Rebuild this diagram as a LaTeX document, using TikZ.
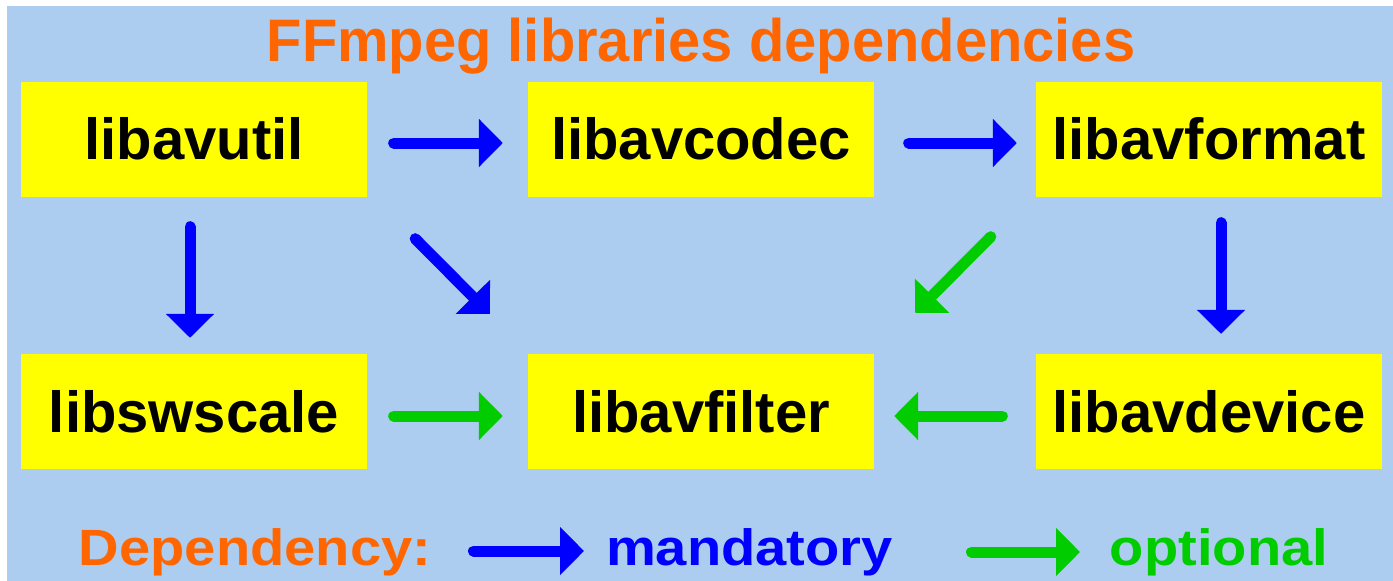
\documentclass[tikz,border=0pt]{standalone}
\usepackage{fontspec}
\setmainfont{Liberation Sans}
\newfontfamily\legfont{Liberation Sans}[FakeStretch=1.1]
\newfontfamily\titlefont{Liberation Sans}[FakeStretch=0.965]
\usetikzlibrary{arrows.meta,calc}
\definecolor{bgblue}{RGB}{172,205,239}
\definecolor{boxyellow}{RGB}{255,255,0}
\definecolor{tOrange}{RGB}{255,102,0}
\definecolor{mBlue}{RGB}{0,0,255}
\definecolor{oGreen}{RGB}{0,204,0}
\tikzset{
  libbox/.style={fill=boxyellow, minimum width=346pt, minimum height=115pt, inner sep=0pt,
    font=\fontsize{58}{60}\selectfont\bfseries, text=black},
  arrbase/.style={line width=11pt, line cap=round, -{Triangle[length=24pt,width=47pt]}},
  mand/.style={arrbase, draw=mBlue},
  opt/.style={arrbase, draw=oGreen},
  legtext/.style={anchor=base, inner sep=0pt, font=\legfont\fontsize{51}{53}\selectfont\bfseries}
}
\begin{document}
\begin{tikzpicture}[x=1pt,y=-1pt]
\useasboundingbox (0,0) rectangle (1393,581);
\fill[white] (0,0) rectangle (1393,581);
\fill[bgblue] (7,6) rectangle (1393,581);

\node[anchor=base, inner sep=0pt, text=tOrange, font=\titlefont\fontsize{60}{62}\selectfont\bfseries] (title) at (701,61) {FFmpeg libraries dependencies};

\node[libbox] (avutil)   at (194,139) {libavutil};
\node[libbox] (avcodec)  at (701,139) {libavcodec};
\node[libbox] (avformat) at (1209,139) {libavformat};
\node[libbox] (swscale)  at (194,411.5) {libswscale};
\node[libbox] (avfilter) at (701,411.5) {libavfilter};
\node[libbox] (avdevice) at (1209,411.5) {libavdevice};

% mandatory
\draw[mand] ($(avutil.east)+(26.5,4)$) -- ($(avcodec.west)+(-25,4)$);
\draw[mand] ($(avcodec.east)+(34.5,4)$) -- ($(avformat.west)+(-19,4)$);
\draw[mand] ($(avutil.south)+(-4,30)$) -- ($(swscale.north)+(-4,-16)$);
\draw[mand] ($(avformat.south)+(12,26)$) -- ($(avdevice.north)+(12,-20)$);
\draw[mand] ($(avutil.south east)+(48,42)$) -- ($(avfilter.north west)+(-38,-40)$);
% optional
\draw[opt] ($(avformat.south west)+(-45,40)$) -- ($(avfilter.north east)+(41,-41)$);
\draw[opt] ($(swscale.east)+(26.5,4.5)$) -- ($(avfilter.west)+(-25,4.5)$);
\draw[opt] ($(avdevice.west)+(-33.5,4.5)$) -- ($(avfilter.east)+(20,4.5)$);

% legend
\node[legtext, text=tOrange] (deptext) at (255,565) {Dependency:};
\node[legtext, text=mBlue] (mandtext) at (749.5,565) {mandatory};
\node[legtext, text=oGreen] (opttext) at (1219,565) {optional};
\coordinate (lbs) at (473.5,551);
\coordinate (lbe) at (584,551);
\coordinate (lgs) at (971.5,552);
\coordinate (lge) at (1080,552);
\draw[mand] (lbs) -- (lbe);
\draw[opt] (lgs) -- (lge);
\end{tikzpicture}
\end{document}
